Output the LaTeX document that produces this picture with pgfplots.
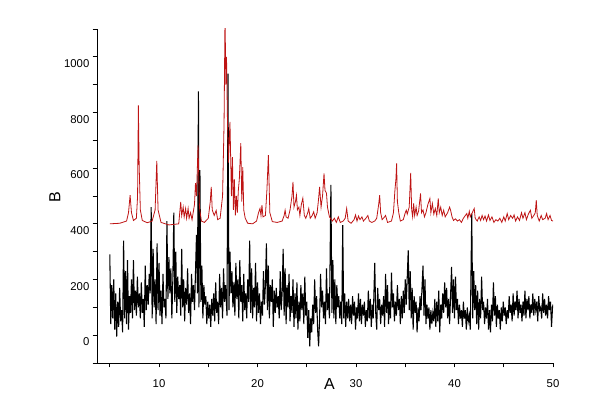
\documentclass[border=0pt]{standalone}
\usepackage{pgfplots}
\pgfplotsset{compat=1.18}
\usepackage{fontspec}
\setmainfont{Liberation Sans}
\definecolor{xrdred}{RGB}{190,20,20}

\begin{document}
\begin{tikzpicture}
\begin{axis}[
  scale only axis,
  width=342pt, height=250.5pt,
  xmin=3.7, xmax=50, ymin=-100, ymax=1100,
  axis lines=left,
  axis line style={-, line width=0.7pt},
  xtick={10,20,30,40,50},
  minor xtick={5,15,25,35,45},
  ytick={0,200,400,600,800,1000},
  minor ytick={-100,100,300,500,700,900,1100},
  tick align=outside,
  major tick length=3.2pt, minor tick length=3.2pt,
  tick style={black, line width=0.6pt},
  /pgf/number format/assume math mode=true,
  /pgf/number format/1000 sep={},
  tick label style={font=\fontsize{8.5}{10}\selectfont},
  xticklabel style={yshift=-6pt},
  yticklabel style={yshift=-5pt, xshift=1pt},
  xlabel={A}, ylabel={B},
  label style={font=\fontsize{12}{14}\selectfont},
  xlabel style={at={(axis description cs:0.51,0)}, anchor=north, yshift=-8pt},
  ylabel style={at={(axis description cs:0,0.5)}, anchor=south, xshift=-1pt, yshift=24pt},
]
\coordinate (bl) at (rel axis cs:0,0);
\coordinate (tr) at (rel axis cs:1,1);

% black: measured pattern
\addplot[black, line width=0.8pt] coordinates {
(5.00,290)(5.10,40)(5.20,180)(5.30,60)(5.40,200)(5.50,20)(5.60,150)(5.70,-5)(5.80,120)(5.90,30)
(6.00,170)(6.10,50)(6.20,90)(6.30,10)(6.40,340)(6.50,60)(6.60,230)(6.70,40)(6.80,270)(6.90,20)
(7.00,140)(7.10,80)(7.20,200)(7.30,60)(7.40,270)(7.50,90)(7.60,160)(7.70,70)(7.80,210)(7.90,100)
(8.00,150)(8.10,60)(8.20,190)(8.30,80)(8.40,130)(8.50,30)(8.60,250)(8.70,90)(8.80,180)(8.90,110)
(9.00,220)(9.10,150)(9.20,460)(9.30,60)(9.40,310)(9.50,100)(9.60,200)(9.70,40)(9.80,330)(9.90,90)
(10.00,260)(10.10,70)(10.20,160)(10.30,40)(10.40,220)(10.50,100)(10.60,130)(10.70,60)(10.80,410)(10.90,130)
(11.00,280)(11.10,150)(11.20,240)(11.30,60)(11.40,200)(11.50,440)(11.60,120)(11.70,300)(11.80,80)(11.90,210)
(12.00,130)(12.10,180)(12.20,70)(12.30,310)(12.40,100)(12.50,200)(12.60,50)(12.70,170)(12.80,110)(12.90,240)
(13.00,80)(13.10,150)(13.20,40)(13.30,220)(13.40,120)(13.50,180)(13.60,90)(13.80,360)(13.90,150)(14.00,876)
(14.05,100)(14.15,593)(14.25,120)(14.35,250)(14.45,60)(14.55,180)(14.65,110)(14.75,140)(14.85,40)(14.95,120)
(15.05,60)(15.15,110)(15.25,30)(15.35,130)(15.45,70)(15.55,150)(15.65,50)(15.75,190)(15.85,80)(15.95,120)
(16.05,40)(16.15,220)(16.25,100)(16.35,170)(16.45,60)(16.55,240)(16.65,120)(16.75,180)(16.90,70)(17.00,940)
(17.10,90)(17.20,300)(17.30,150)(17.40,230)(17.50,100)(17.60,190)(17.70,70)(17.80,260)(17.90,130)(18.00,200)
(18.10,60)(18.20,270)(18.30,120)(18.40,180)(18.50,50)(18.60,220)(18.70,90)(18.80,150)(18.90,60)(19.00,200)
(19.10,120)(19.20,340)(19.30,80)(19.40,240)(19.50,60)(19.60,170)(19.70,100)(19.80,260)(19.90,50)(20.00,190)
(20.10,80)(20.20,150)(20.30,40)(20.40,120)(20.50,70)(20.60,230)(20.70,110)(20.80,180)(20.90,330)(21.00,90)
(21.10,250)(21.20,60)(21.30,180)(21.40,120)(21.50,200)(21.60,30)(21.70,160)(21.80,80)(21.90,170)(22.00,100)
(22.10,140)(22.20,60)(22.30,230)(22.40,90)(22.50,150)(22.60,310)(22.70,70)(22.80,240)(22.90,40)(23.00,180)
(23.10,100)(23.20,220)(23.30,50)(23.40,140)(23.50,80)(23.60,200)(23.70,30)(23.80,150)(23.90,60)(24.00,190)
(24.10,20)(24.20,120)(24.30,50)(24.40,180)(24.50,90)(24.60,150)(24.70,40)(24.80,210)(24.90,70)(25.00,120)
(25.10,-10)(25.20,90)(25.30,-40)(25.40,60)(25.50,10)(25.60,110)(25.70,40)(25.80,200)(25.90,80)(26.00,140)
(26.10,20)(26.20,-40)(26.30,60)(26.40,220)(26.50,100)(26.60,160)(26.70,60)(26.80,120)(26.90,40)(27.00,240)
(27.10,90)(27.20,150)(27.30,60)(27.45,540)(27.55,80)(27.65,270)(27.75,60)(27.85,200)(27.95,40)(28.05,180)
(28.15,100)(28.25,140)(28.35,60)(28.45,120)(28.55,40)(28.65,395)(28.75,60)(28.85,150)(28.95,30)(29.05,120)
(29.15,60)(29.25,130)(29.35,50)(29.45,110)(29.55,40)(29.65,140)(29.75,70)(29.85,120)(29.95,20)(30.05,100)
(30.15,60)(30.25,150)(30.35,50)(30.45,130)(30.55,40)(30.65,110)(30.75,70)(30.85,120)(30.95,30)(31.05,90)
(31.15,50)(31.25,160)(31.35,60)(31.45,130)(31.55,30)(31.65,110)(31.75,60)(31.90,260)(32.00,80)(32.10,20)
(32.20,170)(32.30,90)(32.40,130)(32.50,40)(32.60,110)(32.70,70)(32.80,140)(32.90,30)(33.00,220)(33.10,80)
(33.20,180)(33.30,40)(33.40,120)(33.50,60)(33.60,225)(33.70,100)(33.80,150)(33.90,50)(34.00,120)(34.10,70)
(34.20,180)(34.30,90)(34.40,130)(34.50,40)(34.60,140)(34.70,60)(34.80,160)(34.90,80)(35.00,200)(35.10,110)
(35.30,305)(35.40,90)(35.50,230)(35.60,60)(35.70,170)(35.80,20)(35.90,140)(36.00,80)(36.10,120)(36.20,10)
(36.30,100)(36.40,50)(36.50,140)(36.60,90)(36.80,250)(36.90,70)(37.00,200)(37.10,40)(37.20,110)(37.30,60)
(37.40,100)(37.50,20)(37.60,90)(37.70,40)(37.80,80)(37.90,50)(38.00,130)(38.10,30)(38.20,120)(38.30,50)
(38.40,160)(38.50,10)(38.60,110)(38.70,60)(38.80,150)(38.90,80)(39.00,190)(39.10,100)(39.20,170)(39.30,60)
(39.40,130)(39.50,40)(39.70,245)(39.80,80)(39.90,200)(40.00,60)(40.10,210)(40.20,90)(40.30,130)(40.40,40)
(40.50,110)(40.60,60)(40.70,90)(40.80,30)(40.90,120)(41.00,60)(41.10,90)(41.20,20)(41.30,100)(41.40,50)
(41.50,70)(41.60,20)(41.75,437)(41.85,60)(41.95,230)(42.05,90)(42.15,180)(42.25,40)(42.35,160)(42.45,20)
(42.55,130)(42.65,60)(42.75,210)(42.85,90)(42.95,120)(43.05,40)(43.15,100)(43.25,60)(43.35,130)(43.45,20)
(43.55,90)(43.65,10)(43.75,110)(43.85,50)(43.95,190)(44.05,70)(44.15,140)(44.25,30)(44.35,110)(44.45,60)
(44.55,90)(44.65,20)(44.75,100)(44.85,50)(44.95,120)(45.05,70)(45.15,100)(45.25,40)(45.35,90)(45.45,60)
(45.55,140)(45.65,80)(45.75,110)(45.85,50)(45.95,150)(46.05,70)(46.15,120)(46.25,90)(46.35,160)(46.45,60)
(46.55,130)(46.65,80)(46.75,110)(46.85,50)(46.95,120)(47.05,70)(47.15,160)(47.25,60)(47.35,130)(47.45,90)
(47.55,140)(47.65,60)(47.75,110)(47.85,80)(47.95,150)(48.05,70)(48.15,130)(48.25,90)(48.35,120)(48.45,50)
(48.55,140)(48.65,90)(48.75,100)(48.85,60)(48.95,150)(49.05,80)(49.15,130)(49.25,70)(49.35,110)(49.45,60)
(49.55,140)(49.65,90)(49.75,120)(49.85,30)(49.95,100)(50.00,110)
};

% red: calculated pattern
\addplot[xrdred, line width=0.6pt] coordinates {
(5.0,400)(6.0,402)(6.7,410)(6.9,440)(7.06,503)(7.2,440)(7.4,412)(7.7,420)(7.82,500)(7.9,826)
(7.98,610)(8.1,450)(8.3,412)(8.8,404)(9.3,410)(9.6,450)(9.77,626)(9.9,450)(10.2,405)(11.0,396)
(12.0,400)(12.1,440)(12.2,479)(12.3,430)(12.45,460)(12.55,425)(12.7,455)(12.8,420)(12.95,455)(13.05,420)
(13.2,440)(13.35,415)(13.6,470)(13.7,546)(13.8,500)(13.96,682)(14.1,460)(14.3,410)(14.6,405)(15.0,420)
(15.2,480)(15.3,533)(15.4,450)(15.6,430)(15.8,448)(15.95,415)(16.2,420)(16.45,500)(16.6,760)(16.7,1150)
(16.78,900)(16.85,1000)(16.95,760)(17.05,620)(17.2,766)(17.35,500)(17.45,640)(17.55,450)(17.65,560)(17.75,430)
(17.85,500)(17.95,440)(18.05,520)(18.15,560)(18.3,690)(18.4,480)(18.5,604)(18.6,450)(18.75,420)(19.0,402)
(19.5,400)(19.9,410)(20.1,440)(20.25,455)(20.35,430)(20.45,467)(20.55,425)(20.8,430)(20.95,520)(21.1,647)
(21.25,440)(21.5,408)(22.0,405)(22.5,410)(22.7,430)(22.8,449)(22.9,425)(23.1,420)(23.3,450)(23.5,500)
(23.6,551)(23.7,460)(23.85,480)(23.95,503)(24.05,450)(24.2,460)(24.3,430)(24.45,470)(24.6,492)(24.75,430)
(24.9,420)(25.1,440)(25.2,455)(25.35,420)(25.55,430)(25.7,443)(25.85,420)(26.05,440)(26.2,490)(26.3,533)
(26.45,460)(26.6,500)(26.75,581)(26.85,520)(27.0,510)(27.1,460)(27.3,425)(27.6,410)(27.8,420)(28.0,405)
(28.2,425)(28.4,405)(28.7,410)(28.9,420)(29.05,455)(29.2,410)(29.5,402)(29.8,415)(29.95,432)(30.1,410)
(30.25,428)(30.4,415)(30.6,425)(30.75,410)(31.0,420)(31.2,430)(31.35,410)(31.6,405)(31.9,410)(32.1,420)
(32.3,470)(32.4,503)(32.5,440)(32.65,415)(32.9,425)(33.0,430)(33.2,405)(33.6,410)(33.8,440)(33.95,521)
(34.05,560)(34.12,617)(34.2,480)(34.35,438)(34.5,410)(34.8,415)(35.0,440)(35.1,449)(35.2,435)(35.4,460)
(35.55,583)(35.65,450)(35.75,425)(35.85,473)(35.95,430)(36.1,460)(36.2,430)(36.35,445)(36.55,509)(36.65,440)
(36.8,450)(36.95,425)(37.1,440)(37.3,470)(37.5,491)(37.6,440)(37.75,473)(37.9,435)(38.05,455)(38.2,430)
(38.35,491)(38.45,440)(38.6,460)(38.75,430)(38.9,449)(39.05,425)(39.3,440)(39.5,460)(39.6,449)(39.75,425)
(39.9,412)(40.1,418)(40.3,410)(40.5,415)(40.7,405)(40.9,420)(41.1,430)(41.25,437)(41.35,420)(41.5,445)
(41.6,425)(41.8,440)(42.0,455)(42.1,420)(42.3,410)(42.5,425)(42.65,412)(42.8,430)(42.95,415)(43.1,428)
(43.25,410)(43.45,432)(43.6,412)(43.8,425)(44.0,405)(44.2,415)(44.4,410)(44.6,420)(44.8,405)(45.0,425)
(45.15,410)(45.35,437)(45.5,415)(45.7,430)(45.9,420)(46.05,432)(46.2,410)(46.4,425)(46.6,412)(46.8,440)
(46.95,420)(47.15,440)(47.3,415)(47.5,435)(47.7,449)(47.85,420)(48.05,430)(48.2,440)(48.3,485)(48.4,430)
(48.6,410)(48.8,430)(48.95,415)(49.2,420)(49.35,437)(49.5,415)(49.7,430)(49.85,412)(50.0,410)
};
\end{axis}
\pgfresetboundingbox
\path ([shift={(-72.75pt,-29.25pt)}]bl) rectangle ([shift={(31.5pt,21.75pt)}]tr);
\end{tikzpicture}
\end{document}
